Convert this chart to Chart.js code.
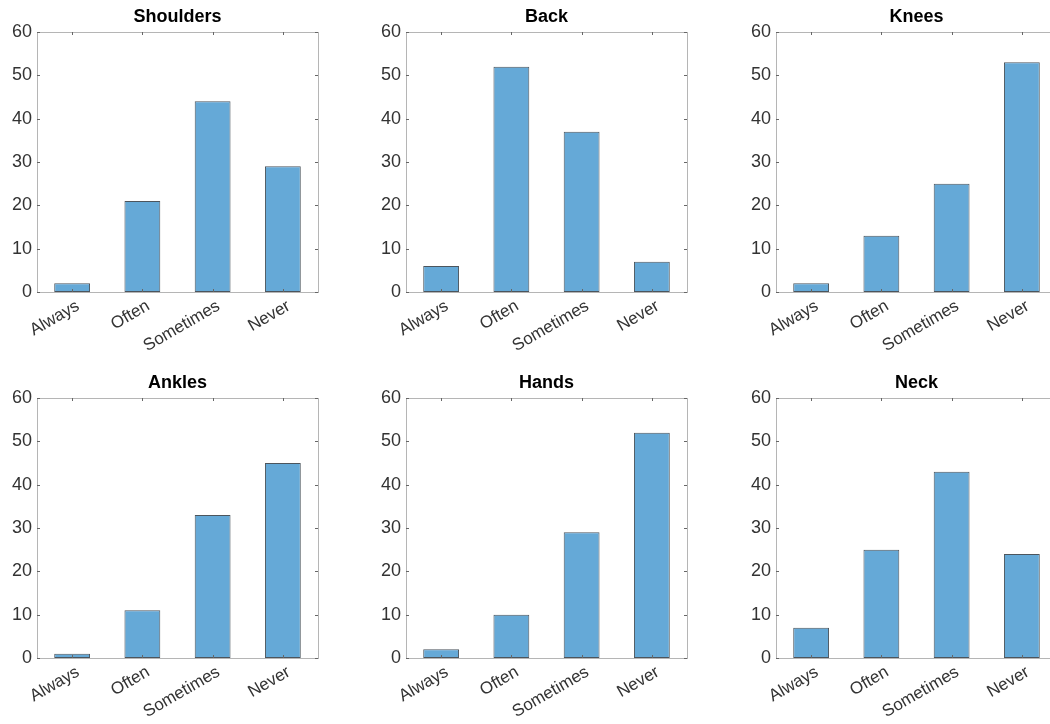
<!DOCTYPE html>
<html>
<head>
<meta charset="utf-8">
<script src="https://cdn.jsdelivr.net/npm/chart.js@4/dist/chart.umd.min.js"></script>
<style>
  html, body { margin: 0; padding: 0; background: #fff; overflow: hidden; width: 1050px; height: 724px; }
  .panel { position: absolute; }
</style>
</head>
<body>
<div class="panel" style="left:0px;top:0px"><canvas id="c0" width="320" height="358"></canvas></div>
<div class="panel" style="left:369px;top:0px"><canvas id="c1" width="320" height="358"></canvas></div>
<div class="panel" style="left:739px;top:0px"><canvas id="c2" width="320" height="358"></canvas></div>
<div class="panel" style="left:0px;top:366px"><canvas id="c3" width="320" height="358"></canvas></div>
<div class="panel" style="left:369px;top:366px"><canvas id="c4" width="320" height="358"></canvas></div>
<div class="panel" style="left:739px;top:366px"><canvas id="c5" width="320" height="358"></canvas></div>
<script>
// categories and answers per body part
const categories = ['Always', 'Often', 'Sometimes', 'Never'];
const titles = ['Shoulders', 'Back', 'Knees', 'Ankles', 'Hands', 'Neck'];

const shoulders = [2, 21, 44, 29];
const back = [6, 52, 37, 7];
const knees = [2, 13, 25, 53];
const ankles = [1, 11, 33, 45];
const hands = [2, 10, 29, 52];
const neck = [7, 25, 43, 24];

const yTicks = [0, 10, 20, 30, 40, 50, 60];

const seriesList = [shoulders, back, knees, ankles, hands, neck];

// box around the axes + small inward ticks (MATLAB look)
const boxPlugin = {
    id: 'box',
    afterDatasetsDraw(chart) {
        const { ctx, chartArea: a, scales } = chart;
        const x = scales.x, y = scales.y;
        const len = 3;
        ctx.save();
        ctx.strokeStyle = '#b5b5b5';
        ctx.lineWidth = 1;
        ctx.strokeRect(Math.round(a.left) + 0.5, Math.round(a.top) + 0.5,
            Math.round(a.right - a.left), Math.round(a.bottom - a.top));
        ctx.strokeStyle = '#666';
        ctx.beginPath();
        x.ticks.forEach((t, i) => {
            const px = Math.round(x.getPixelForTick(i)) + 0.5;
            ctx.moveTo(px, a.bottom); ctx.lineTo(px, a.bottom - len);
            ctx.moveTo(px, a.top); ctx.lineTo(px, a.top + len);
        });
        y.ticks.forEach((t, i) => {
            const py = Math.round(y.getPixelForTick(i)) + 0.5;
            ctx.moveTo(a.left, py); ctx.lineTo(a.left + len, py);
            ctx.moveTo(a.right, py); ctx.lineTo(a.right - len, py);
        });
        ctx.stroke();
        ctx.restore();
    }
};

function makeChart(id, title, values) {
    const ctx = document.getElementById(id).getContext('2d');
    return new Chart(ctx, {
        type: 'bar',
        data: {
            labels: categories,
            datasets: [{
                data: values,
                backgroundColor: '#65a9d7',
                borderColor: 'rgba(45, 55, 65, 0.85)',
                borderWidth: 1,
                borderSkipped: false,
                barPercentage: 0.51,
                categoryPercentage: 1
            }]
        },
        options: {
            responsive: false,
            animation: false,
            devicePixelRatio: 1,
            layout: { padding: { left: 0, top: 0, bottom: 0, right: 2 } },
            plugins: {
                legend: { display: false },
                tooltip: { enabled: false },
                title: {
                    display: true,
                    fullSize: false,
                    text: title,
                    color: '#000',
                    font: { family: 'Liberation Sans', size: 18, weight: 'bold', lineHeight: 1 },
                    padding: { top: 8, bottom: 6 }
                }
            },
            scales: {
                x: {
                    offset: true,
                    grid: { display: false, drawTicks: false },
                    border: { display: false },
                    ticks: {
                        color: '#333',
                        font: { family: 'Liberation Sans', size: 17 },
                        minRotation: 30,
                        maxRotation: 30,
                        padding: 4,
                        labelOffset: 6,
                        autoSkip: false
                    },
                    afterFit(scale) { scale.height = 66; }
                },
                y: {
                    min: 0,
                    max: 60,
                    grid: { display: false, drawTicks: false },
                    border: { display: false },
                    afterBuildTicks(scale) { scale.ticks = yTicks.map(v => ({ value: v })); },
                    ticks: {
                        color: '#333',
                        font: { family: 'Liberation Sans', size: 18 },
                        padding: 5
                    },
                    afterFit(scale) { scale.width = 37; }
                }
            }
        },
        plugins: [boxPlugin]
    });
}

seriesList.forEach((vals, i) => makeChart('c' + i, titles[i], vals));
</script>
</body>
</html>
